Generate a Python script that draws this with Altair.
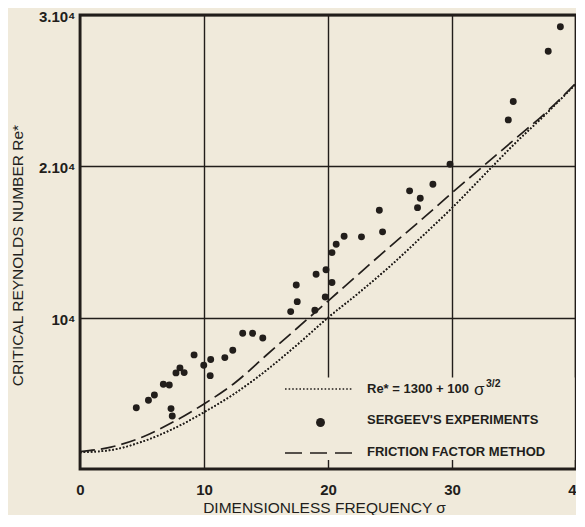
import altair as alt
import pandas as pd

# ---- data ----
sigma_exp = [4.54, 5.52, 6.0, 6.72, 7.2, 7.34, 7.44, 7.74, 8.06, 8.4,
             9.2, 9.98, 10.54, 10.5, 11.68, 12.32, 13.12, 13.92, 14.74, 16.99,
             17.52, 17.44, 18.94, 19.04, 19.84, 19.78, 20.32, 20.32, 20.66, 21.3,
             22.7, 24.14, 24.4, 26.58, 27.44, 27.22, 28.46, 29.84, 34.54, 34.94,
             37.76, 38.74]
re_exp = [4050, 4540, 4890, 5600, 5550, 3990, 3500, 6350, 6680, 6370,
          7540, 6860, 7230, 6170, 7360, 7850, 8970, 8970, 8660, 10400,
          11060, 12160, 10490, 12870, 13170, 11370, 12320, 14300, 14850, 15380,
          15340, 17100, 15670, 18380, 17890, 17270, 18820, 20140, 23070, 24280,
          27610, 29220]

sigma_curve = [0, 2.5, 5, 7.5, 10, 12.5, 15, 17.5, 20, 22.5, 25, 27.5, 30, 32.5, 35, 37.5, 40]
re_dotted = [1100, 1250, 1800, 2650, 3750, 5000, 6500, 8200, 10000, 11650, 13400,
             15300, 17250, 19350, 21450, 23400, 25450]
re_dashed = [1150, 1450, 2100, 3100, 4300, 5700, 7500, 9300, 11100, 12900, 14700,
             16450, 18250, 20000, 21750, 23500, 25500]

x_ticks = [0, 10, 20, 30, 40]
y_ticks = [10000, 20000, 30000]
y_tick_labels = ["10⁴", "2.10⁴", "3.10⁴"]

legend_formula = "Re* = 1300 + 100"
legend_formula_sigma = "σ"
legend_formula_exp = "3/2"
legend_points = "SERGEEV'S EXPERIMENTS"
legend_dashed = "FRICTION FACTOR METHOD"

x_title = "DIMENSIONLESS FREQUENCY  σ"
y_title = "CRITICAL REYNOLDS NUMBER Re*"

# ---- styling ----
INK = "#221e1b"
PAPER = "#f0eadb"
FONT = "Liberation Sans"

W, H = 496, 454

pts = pd.DataFrame({"sigma": sigma_exp, "re": re_exp})
curves = pd.DataFrame({"sigma": sigma_curve, "dotted": re_dotted, "dashed": re_dashed})
one = pd.DataFrame({"k": [0]})

label_expr = ("datum.value == 10000 ? '%s' : datum.value == 20000 ? '%s' : '%s'"
              % tuple(y_tick_labels))

xscale = alt.Scale(domain=[0, 40], nice=False, zero=False)
yscale = alt.Scale(domain=[0, 30000], nice=False, zero=False)

xaxis = alt.Axis(values=x_ticks, grid=True, gridColor=INK, gridWidth=1.4, gridOpacity=1,
                 domain=False, ticks=False, tickSize=0, labelPadding=13, labelFlush=False,
                 labelFont=FONT, labelFontSize=15, labelFontWeight="bold", labelColor=INK,
                 title=x_title, titleFont=FONT, titleFontSize=15.5, titleFontWeight="normal",
                 titleColor=INK, titleX=244, titleY=43, titleBaseline="alphabetic", titleAlign="center")
yaxis = alt.Axis(values=y_ticks, grid=True, gridColor=INK, gridWidth=1.4, gridOpacity=1,
                 domain=False, ticks=False, tickSize=0, labelPadding=5, labelOffset=1.5,
                 labelExpr=label_expr,
                 labelFont=FONT, labelFontSize=15, labelFontWeight="bold", labelColor=INK,
                 title=y_title, titleFont=FONT, titleFontSize=15.5, titleFontWeight="normal",
                 titleColor=INK, titleX=-63, titleY=240, titleBaseline="middle", titleAlign="center")

base = alt.Chart(curves)

dotted = base.mark_line(color=INK, strokeWidth=1.7, strokeDash=[1.6, 2.0], interpolate="monotone").encode(
    x=alt.X("sigma:Q", scale=xscale, axis=xaxis),
    y=alt.Y("dotted:Q", scale=yscale, axis=yaxis),
)
dashed = base.mark_line(color=INK, strokeWidth=1.7, strokeDash=[15, 6], interpolate="monotone").encode(
    x=alt.X("sigma:Q", scale=xscale),
    y=alt.Y("dashed:Q", scale=yscale),
)
points = alt.Chart(pts).mark_circle(color=INK, size=48, opacity=1).encode(
    x=alt.X("sigma:Q", scale=xscale),
    y=alt.Y("re:Q", scale=yscale),
)

# legend box that hides the grid lines behind it
leg_bg = alt.Chart(one).mark_rect(color=PAPER, opacity=1).encode(
    x=alt.value(195), x2=alt.value(494.5), y=alt.value(362.5), y2=alt.value(445)
)
leg_dot_line = alt.Chart(one).mark_rule(color=INK, strokeWidth=1.7, strokeDash=[1.6, 2.0]).encode(
    x=alt.value(205), x2=alt.value(272), y=alt.value(374)
)
leg_dash_line = alt.Chart(one).mark_rule(color=INK, strokeWidth=1.7, strokeDash=[17, 8]).encode(
    x=alt.value(205), x2=alt.value(272), y=alt.value(438)
)
leg_dot = alt.Chart(one).mark_circle(color=INK, size=80, opacity=1).encode(
    x=alt.value(240.5), y=alt.value(407.5)
)

def txt(s, x, y, size=13, weight="bold"):
    return alt.Chart(one).mark_text(text=s, font=FONT, fontSize=size, fontWeight=weight,
                                    color=INK, align="left", baseline="middle").encode(
        x=alt.value(x), y=alt.value(y))

leg_t1 = txt(legend_formula, 287, 374)
leg_t1s = txt(legend_formula_sigma, 394, 375, size=17, weight="normal")
leg_t1e = txt(legend_formula_exp, 406, 369, size=10.5)
leg_t2 = txt(legend_points, 287, 405)
leg_t3 = txt(legend_dashed, 287, 437)

chart = alt.layer(
    dotted, leg_bg, dashed, dotted, points,
    leg_dot_line, leg_dash_line, leg_dot, leg_t1, leg_t1s, leg_t1e, leg_t2, leg_t3,
).properties(
    width=W, height=H,
    padding={"left": 72, "top": 7, "right": 0, "bottom": 46},
    autosize=alt.AutoSizeParams(type="none"),
).configure(
    background=PAPER,
).configure_view(
    stroke=INK, strokeWidth=2.8, fill=PAPER,
)

chart.save("out.html", embed_options={"renderer": "svg", "actions": False})
